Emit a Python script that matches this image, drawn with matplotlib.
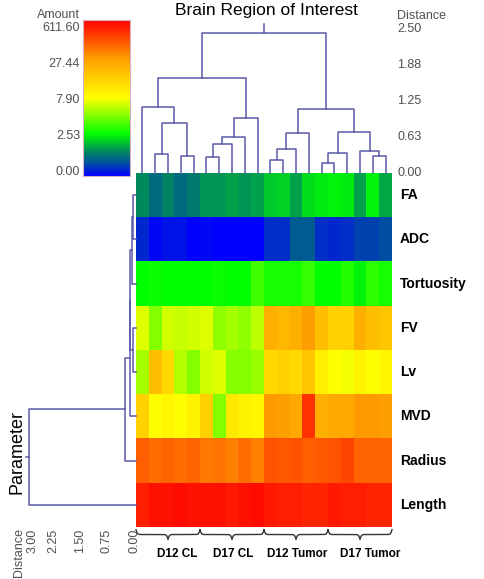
import numpy as np
import matplotlib
matplotlib.use("Agg")
import matplotlib.pyplot as plt
from matplotlib.colors import LinearSegmentedColormap

plt.rcParams['font.family'] = ['Liberation Sans', 'DejaVu Sans']

# parameters (rows, top to bottom) and the 20 regions (columns)
params = ["FA", "ADC", "Tortuosity", "FV", "Lv", "MVD", "Radius", "Length"]
groups = ["D12 CL", "D17 CL", "D12 Tumor", "D17 Tumor"]

# cell values, as positions on the colour scale (0 = bottom, 1 = top)
fa = [0.16, 0.12, 0.15, 0.12, 0.14, 0.17, 0.17, 0.18, 0.17, 0.18,
      0.22, 0.23, 0.18, 0.24, 0.25, 0.26, 0.25, 0.18, 0.26, 0.19]
adc = [0.04, 0.01, 0.02, 0.02, 0.00, 0.01, 0.00, 0.00, 0.00, 0.00,
       0.05, 0.05, 0.10, 0.10, 0.05, 0.04, 0.05, 0.07, 0.07, 0.08]
tortuosity = [0.27, 0.28, 0.27, 0.27, 0.27, 0.27, 0.28, 0.27, 0.27, 0.33,
              0.29, 0.29, 0.29, 0.32, 0.27, 0.27, 0.30, 0.26, 0.31, 0.29]
fv = [0.47, 0.39, 0.46, 0.45, 0.46, 0.47, 0.40, 0.42, 0.40, 0.44,
      0.71, 0.69, 0.71, 0.75, 0.67, 0.62, 0.62, 0.71, 0.67, 0.65]
lv = [0.42, 0.67, 0.60, 0.43, 0.39, 0.46, 0.47, 0.39, 0.39, 0.41,
      0.60, 0.62, 0.60, 0.65, 0.54, 0.50, 0.49, 0.53, 0.50, 0.52]
mvd = [0.62, 0.50, 0.52, 0.50, 0.53, 0.62, 0.39, 0.56, 0.53, 0.52,
       0.76, 0.75, 0.73, 0.92, 0.71, 0.73, 0.73, 0.76, 0.76, 0.75]
radius = [0.85, 0.83, 0.84, 0.83, 0.84, 0.81, 0.82, 0.80, 0.83, 0.80,
          0.87, 0.86, 0.87, 0.85, 0.86, 0.87, 0.89, 0.84, 0.84, 0.84]
length = [0.95, 0.97, 0.97, 0.98, 0.97, 0.97, 0.97, 0.96, 0.97, 0.98,
          0.96, 0.95, 0.95, 0.94, 0.94, 0.96, 0.95, 0.95, 0.94, 0.94]

cbar_labels = ["0.00", "2.53", "7.90", "27.44", "611.60"]
col_dist_ticks = [0.00, 0.63, 1.25, 1.88, 2.50]
row_dist_ticks = [0.00, 0.75, 1.50, 2.25, 3.00]

# merges (a, b, height); leaves are 0..n-1, merge k gets id n+k
col_merges = [(1, 2, 0.33), (3, 4, 0.29), (20, 21, 0.87), (0, 22, 1.15),
              (5, 6, 0.27), (24, 7, 0.50), (25, 8, 0.63), (26, 9, 0.96),
              (23, 27, 1.65),
              (10, 11, 0.22), (29, 12, 0.41), (30, 13, 0.70),
              (14, 15, 0.17), (32, 16, 0.34), (18, 19, 0.30), (17, 34, 0.38),
              (33, 35, 0.71), (31, 36, 1.11), (28, 37, 2.43)]
row_merges = [(0, 1, 0.02), (8, 2, 0.06), (3, 4, 0.02), (9, 10, 0.10),
              (11, 5, 0.12), (12, 6, 0.25), (13, 7, 2.92)]

data = np.array([fa, adc, tortuosity, fv, lv, mvd, radius, length])
n_rows, n_cols = data.shape

cmap = LinearSegmentedColormap.from_list("amount", [
    (0.00, (0, 0, 1)), (0.08, (0, 0.31, 0.63)), (0.15, (0, 0.51, 0.39)),
    (0.27, (0, 1, 0)), (0.50, (1, 1, 0)), (0.75, (1, 0.63, 0)),
    (1.00, (1, 0, 0))])

W, H = 484, 579
fig = plt.figure(figsize=(W / 100, H / 100), dpi=100)


def px_axes(x0, y0, x1, y1):
    return fig.add_axes([x0 / W, 1 - y1 / H, (x1 - x0) / W, (y1 - y0) / H])


def draw_dendro(ax, merges, n, vertical, base, color="#5a5aa8"):
    pos = {i: float(i) for i in range(n)}
    hgt = {i: base for i in range(n)}
    for k, (a, b, h) in enumerate(merges):
        xs = [pos[a], pos[a], pos[b], pos[b]]
        ys = [hgt[a], h, h, hgt[b]]
        if vertical:
            ax.plot(xs, ys, color=color, lw=1.1, clip_on=False)
        else:
            ax.plot(ys, xs, color=color, lw=1.1, clip_on=False)
        pos[n + k] = (pos[a] + pos[b]) / 2
        hgt[n + k] = h
    return pos[n + len(merges) - 1], hgt[n + len(merges) - 1]


txt_color = "#505050"

# heatmap
hm = px_axes(136, 173, 392, 527)
hm.imshow(data, cmap=cmap, vmin=0, vmax=1, aspect="auto", interpolation="nearest")
hm.set_xlim(-0.5, n_cols - 0.5)
hm.set_ylim(n_rows - 0.5, -0.5)
hm.axis("off")
for i, p in enumerate(params):
    hm.text(n_cols - 0.5 + 0.6, i, p, fontsize=10, fontweight="bold",
            va="center", ha="left")

# braces and group labels under the heatmap
label_shift = [0.7, 0.1, 0.1, 0.8]
for g, name in enumerate(groups):
    x0, x1 = g * 5 - 0.5, g * 5 + 4.5
    w = (x1 - x0) / 2
    half = np.linspace(0, w, 80)
    beta = 18
    yh = 1 / (1 + np.exp(-beta * half)) + 1 / (1 + np.exp(-beta * (half - w)))
    xs = np.concatenate([x0 + half, x0 + w + half])
    ys = np.concatenate([yh, yh[::-1]])
    hm.plot(xs, n_rows - 0.5 + 0.06 + (ys - 0.5) * 0.22, color="#333333",
            lw=1.0, clip_on=False)
    hm.text(g * 5 + 2 + label_shift[g], n_rows - 0.5 + 0.62, name,
            fontsize=8.5, fontweight="bold", ha="center", va="center")

# column dendrogram
cd = px_axes(136, 18, 392, 173)
rx, rh = draw_dendro(cd, col_merges, n_cols, True, 0.0)
cd.plot([rx, rx], [rh, rh + 0.16], color="#5a5aa8", lw=1.1)
cd.set_xlim(-0.5, n_cols - 0.5)
cd.set_ylim(0, 155 / 57.6)
cd.axis("off")
for t in col_dist_ticks:
    cd.text(1.02, t, f"{t:.2f}", transform=cd.get_yaxis_transform(),
            fontsize=9, color=txt_color, ha="left", va="center")
cd.text(1.02, 2.73, "Distance", transform=cd.get_yaxis_transform(),
        fontsize=9, color=txt_color, ha="left", va="center")
fig.text(266 / W, 1 - 10 / H, "Brain Region of Interest", fontsize=12.5,
         ha="center", va="center")

# row dendrogram
rd = px_axes(10, 173, 136, 527)
ry, rhh = draw_dendro(rd, row_merges, n_rows, False, -0.06)
rd.plot([rhh, rhh + 0.08], [ry, ry], color="#5a5aa8", lw=1.1)
rd.set_xlim(124 / 36, -2 / 36)
rd.set_ylim(n_rows - 0.5, -0.5)
rd.axis("off")
for t in row_dist_ticks:
    lab = f"{t:.2f}" if t < 3 else f"Distance\n{t:.2f}"
    rd.text(t, -0.004, lab, transform=rd.get_xaxis_transform(), rotation=90,
            fontsize=9, color=txt_color, ha="center", va="top",
            multialignment="right")
fig.text(17 / W, 1 - 452 / H, "Parameter", rotation=90, fontsize=13,
         ha="center", va="center")

# colour bar
cb = px_axes(83, 20, 130, 176)
grad = np.linspace(0, 1, 256).reshape(-1, 1)
cb.imshow(grad, cmap=cmap, aspect="auto", origin="lower",
          extent=(0, 1, -4 / 144, 1 + 8 / 144))
cb.set_xlim(0, 1)
cb.set_ylim(-4 / 144, 1 + 8 / 144)
cb.set_xticks([])
cb.set_yticks([])
for s in cb.spines.values():
    s.set_color("#d8b0c0")
    s.set_linewidth(0.8)
for i, lab in enumerate(cbar_labels):
    cb.text(-0.06, i / 4, lab, transform=cb.get_yaxis_transform(),
            fontsize=9, color=txt_color, ha="right", va="center")
cb.text(-0.06, 1 + 13 / 144, "Amount", transform=cb.get_yaxis_transform(),
        fontsize=9, color=txt_color, ha="right", va="center")

fig.savefig("out.png", dpi=100)
